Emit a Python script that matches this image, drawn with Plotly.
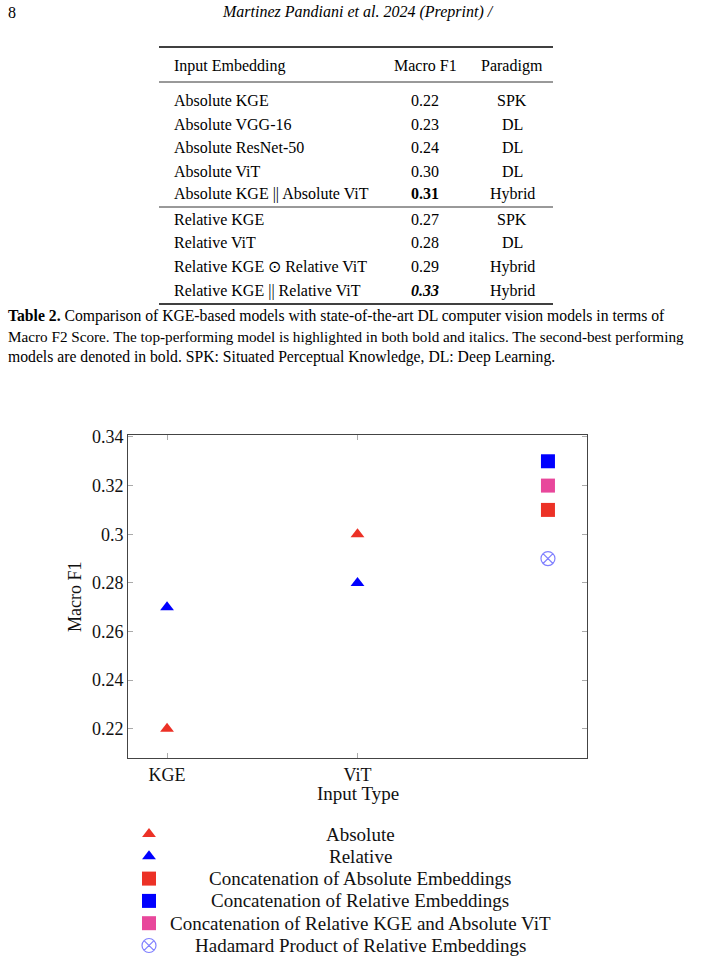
import plotly.graph_objects as go

W, H = 716, 962
SERIF = "Liberation Serif"

# ---------------- data ----------------
page_number = "8"
running_title = "Martinez Pandiani et al. 2024 (Preprint) /"

table_header = ["Input Embedding", "Macro F1", "Paradigm"]
table_embeddings = ["Absolute KGE", "Absolute VGG-16", "Absolute ResNet-50", "Absolute ViT",
                    "Absolute KGE || Absolute ViT",
                    "Relative KGE", "Relative ViT", "Relative KGE \u2299 Relative ViT",
                    "Relative KGE || Relative ViT"]
table_f1 = ["0.22", "0.23", "0.24", "0.30", "<b>0.31</b>",
            "0.27", "0.28", "0.29", "<b><i>0.33</i></b>"]
table_paradigm = ["SPK", "DL", "DL", "DL", "Hybrid", "SPK", "DL", "Hybrid", "Hybrid"]

caption_lines = [
    "<b>Table 2.</b> Comparison of KGE-based models with state-of-the-art DL computer vision models in terms of",
    "Macro F2 Score. The top-performing model is highlighted in both bold and italics. The second-best performing",
    "models are denoted in bold. SPK: Situated Perceptual Knowledge, DL: Deep Learning.",
]

categories = ["KGE", "ViT", "Combined"]
absolute_x = ["KGE", "ViT"]
absolute_y = [0.22, 0.30]
relative_x = ["KGE", "ViT"]
relative_y = [0.27, 0.28]
combined_x = ["Combined"]
concat_abs_y = [0.31]
concat_rel_y = [0.33]
concat_mix_y = [0.32]
hadamard_y = [0.29]

y_ticks = [0.22, 0.24, 0.26, 0.28, 0.30, 0.32, 0.34]
y_ticktext = ["0.22", "0.24", "0.26", "0.28", "0.3", "0.32", "0.34"]
x_ticks = ["KGE", "ViT"]

RED = "#ec3126"
BLUE = "#0000ff"
PINK = "#e8479b"
LBLUE = "rgba(60,60,255,0.65)"

legend_names = ["Absolute", "Relative", "Concatenation of Absolute Embeddings",
                "Concatenation of Relative Embeddings",
                "Concatenation of Relative KGE and Absolute ViT",
                "Hadamard Product of Relative Embeddings"]
legend_symbols = ["triangle-up", "triangle-up", "square", "square", "square", "circle-x-open"]
legend_colors = [RED, BLUE, RED, BLUE, PINK, LBLUE]
legend_sizes = [12, 12, 14, 14, 14, 14]


def px(x):
    return x / W


def py(y):
    return 1 - y / H


fig = go.Figure()

# ---------------- chart ----------------
def add_series(x, y, symbol, color, size, name):
    lw = 1.2 if symbol.endswith("open") else 0
    fig.add_trace(go.Scatter(
        x=x, y=y, mode="markers", name=name, showlegend=False,
        marker=dict(symbol=symbol, color=color, size=size,
                    line=dict(width=lw, color=color)),
        xaxis="x", yaxis="y"))

add_series(absolute_x, absolute_y, "triangle-up", RED, 12, "Absolute")
add_series(relative_x, relative_y, "triangle-up", BLUE, 12, "Relative")
add_series(combined_x, concat_abs_y, "square", RED, 14, legend_names[2])
add_series(combined_x, concat_rel_y, "square", BLUE, 14, legend_names[3])
add_series(combined_x, concat_mix_y, "square", PINK, 14, legend_names[4])
add_series(combined_x, hadamard_y, "circle-x-open", LBLUE, 14, legend_names[5])

# ---------------- legend keys (separate axis below the chart) ----------------
LEG_TOP_PX, LEG_BOT_PX = 815, 962
legend_top = 834
legend_gap = 22.3
for i, (nm, sym, col, sz) in enumerate(zip(legend_names, legend_symbols, legend_colors, legend_sizes)):
    yy = legend_top + i * legend_gap
    lw = 1.2 if sym.endswith("open") else 0
    fig.add_trace(go.Scatter(
        x=[149], y=[yy], mode="markers", showlegend=False, hoverinfo="skip",
        marker=dict(symbol=sym, color=col, size=sz, line=dict(width=lw, color=col)),
        xaxis="x2", yaxis="y2"))
    fig.add_annotation(x=360, y=yy, xref="x2", yref="y2", text=nm, showarrow=False,
                       xanchor="center", yanchor="middle",
                       font=dict(family=SERIF, size=19, color="#111"))

axis_common = dict(showgrid=False, zeroline=False, showline=True, linecolor="#444",
                   linewidth=1, mirror="allticks", ticks="inside", ticklen=5,
                   tickcolor="#aaaaaa", tickwidth=1,
                   tickfont=dict(family=SERIF, size=18, color="#111"))

fig.update_layout(
    width=W, height=H, margin=dict(l=0, r=0, t=0, b=0, autoexpand=False),
    paper_bgcolor="white", plot_bgcolor="rgba(0,0,0,0)",
    showlegend=False,
    xaxis=dict(domain=[px(128), px(587)], type="category", categoryorder="array",
               categoryarray=categories, range=[-0.205, 2.205],
               tickmode="array", tickvals=x_ticks, ticktext=x_ticks, anchor="y",
               **axis_common),
    yaxis=dict(domain=[py(758), py(435)], range=[0.208, 0.3408],
               tickmode="array", tickvals=y_ticks, ticktext=y_ticktext, anchor="x",
               **axis_common),
    xaxis2=dict(domain=[0, 1], range=[0, W], visible=False, anchor="y2", fixedrange=True),
    yaxis2=dict(domain=[py(LEG_BOT_PX), py(LEG_TOP_PX)], range=[LEG_BOT_PX, LEG_TOP_PX],
                visible=False, anchor="x2", fixedrange=True),
)

fig.add_annotation(x=px(75), y=py(597), xref="paper", yref="paper", text="Macro F1",
                   textangle=-90, showarrow=False, xanchor="center", yanchor="middle",
                   font=dict(family=SERIF, size=18, color="#111"))
fig.add_annotation(x=px(358), y=py(793), xref="paper", yref="paper", text="Input Type",
                   showarrow=False, xanchor="center", yanchor="middle",
                   font=dict(family=SERIF, size=19, color="#111"))

# ---------------- page header ----------------
fig.add_annotation(x=px(6), y=py(12), xref="paper", yref="paper", text=page_number,
                   showarrow=False, xanchor="left", yanchor="middle",
                   font=dict(family=SERIF, size=16, color="black"))
fig.add_annotation(x=px(358), y=py(12), xref="paper", yref="paper",
                   text="<i>" + running_title + "</i>",
                   showarrow=False, xanchor="center", yanchor="middle",
                   font=dict(family=SERIF, size=16, color="black"))

# ---------------- table ----------------
tbl_left, tbl_right = 159, 553
col1_x, col2_x, col3_x = 172, 425, 512
header_y = 66
row_ys = [100, 124, 147, 171, 194, 219, 243, 267, 291]
rules = [(47, 1.4), (82, 0.8), (207, 0.8), (304, 1.4)]

for yy, w in rules:
    fig.add_shape(type="line", xref="paper", yref="paper",
                  x0=px(tbl_left), x1=px(tbl_right), y0=py(yy), y1=py(yy),
                  line=dict(color="black", width=w))

tfont = dict(family=SERIF, size=16, color="black")
for txt, xx, anc in zip(table_header, [col1_x, col2_x, col3_x], ["left", "center", "center"]):
    fig.add_annotation(x=px(xx), y=py(header_y), xref="paper", yref="paper", text=txt,
                       showarrow=False, xanchor=anc, yanchor="middle", font=tfont)
for emb, f1, par, yy in zip(table_embeddings, table_f1, table_paradigm, row_ys):
    fig.add_annotation(x=px(col1_x), y=py(yy), xref="paper", yref="paper", text=emb,
                       showarrow=False, xanchor="left", yanchor="middle", font=tfont)
    fig.add_annotation(x=px(col2_x), y=py(yy), xref="paper", yref="paper", text=f1,
                       showarrow=False, xanchor="center", yanchor="middle", font=tfont)
    fig.add_annotation(x=px(col3_x), y=py(yy), xref="paper", yref="paper", text=par,
                       showarrow=False, xanchor="center", yanchor="middle", font=tfont)

# ---------------- caption ----------------
cap_ys = [316, 336, 357]
cap_sizes = [15.7, 15.2, 15.7]
for line, yy, fs in zip(caption_lines, cap_ys, cap_sizes):
    fig.add_annotation(x=px(6), y=py(yy), xref="paper", yref="paper", text=line,
                       showarrow=False, xanchor="left", yanchor="middle",
                       font=dict(family=SERIF, size=fs, color="black"))

fig.write_html("out.html", config={"displayModeBar": False})
